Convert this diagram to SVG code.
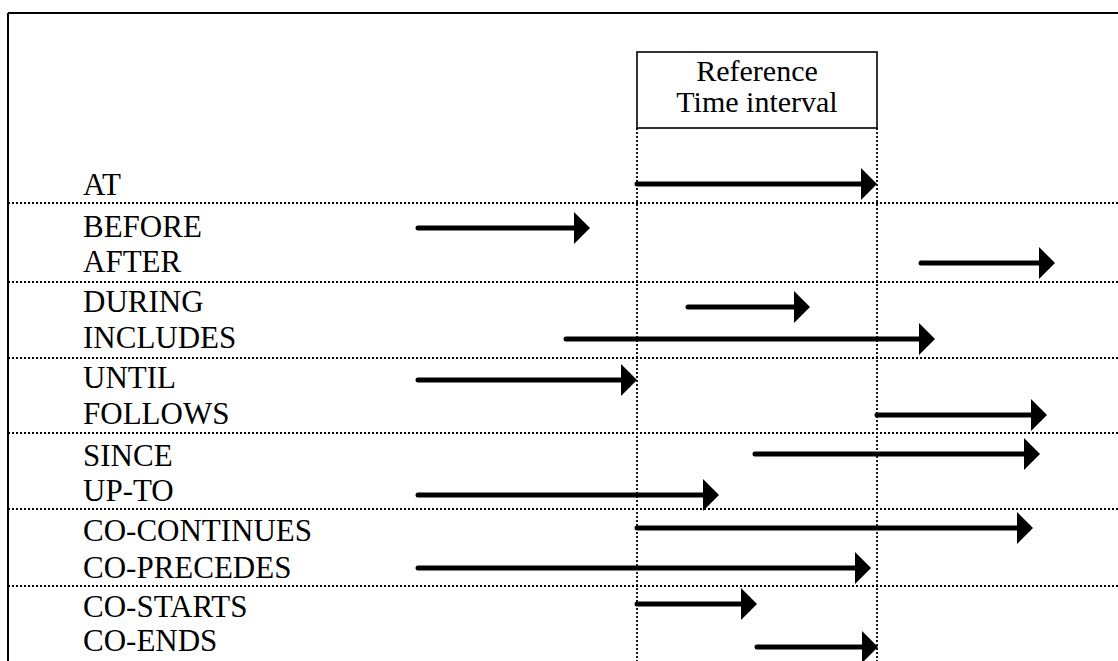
<svg xmlns="http://www.w3.org/2000/svg" width="1118" height="661" viewBox="0 0 1118 661">
<style>
.lbl{font-family:"Liberation Serif","Times New Roman",serif;font-size:31px;fill:#000}
.ref{font-family:"Liberation Serif","Times New Roman",serif;font-size:30px;fill:#000;text-anchor:middle}
.dot{stroke:#000;stroke-width:1.8;stroke-dasharray:2 2;fill:none}
.arr{stroke:#000;stroke-width:5;stroke-linecap:round;fill:none;marker-end:url(#head)}
</style>
<defs>
<marker id="head" markerUnits="userSpaceOnUse" markerWidth="16" markerHeight="32" refX="1" refY="16" orient="auto" viewBox="0 0 16 32">
<path d="M0,0 L16,16 L0,32 z" fill="#000"/>
</marker>
</defs>
<rect width="1118" height="661" fill="#fff"/>
<g id="frame" stroke="#000" stroke-width="2" fill="none">
<line x1="8" y1="13" x2="1118" y2="13"/>
<line x1="8" y1="13" x2="8" y2="661"/>
</g>
<g id="grid">
<line class="dot" x1="8" y1="203" x2="1118" y2="203"/>
<line class="dot" x1="8" y1="282" x2="1118" y2="282"/>
<line class="dot" x1="8" y1="358" x2="1118" y2="358"/>
<line class="dot" x1="8" y1="433" x2="1118" y2="433"/>
<line class="dot" x1="8" y1="509" x2="1118" y2="509"/>
<line class="dot" x1="8" y1="586" x2="1118" y2="586"/>
<line class="dot" x1="637" y1="128" x2="637" y2="661"/>
<line class="dot" x1="877" y1="128" x2="877" y2="661"/>
</g>
<g id="reference">
<rect x="637" y="52" width="240" height="76" fill="#fff" stroke="#000" stroke-width="1.6"/>
<text class="ref" x="757" y="81">Reference</text>
<text class="ref" x="757" y="112">Time interval</text>
</g>
<g id="labels">
<text class="lbl" x="83" y="195">AT</text>
<text class="lbl" x="83" y="237">BEFORE</text>
<text class="lbl" x="83" y="272">AFTER</text>
<text class="lbl" x="83" y="312">DURING</text>
<text class="lbl" x="83" y="348">INCLUDES</text>
<text class="lbl" x="83" y="388">UNTIL</text>
<text class="lbl" x="83" y="424">FOLLOWS</text>
<text class="lbl" x="83" y="466">SINCE</text>
<text class="lbl" x="83" y="501">UP-TO</text>
<text class="lbl" x="83" y="541">CO-CONTINUES</text>
<text class="lbl" x="83" y="578">CO-PRECEDES</text>
<text class="lbl" x="83" y="617">CO-STARTS</text>
<text class="lbl" x="83" y="651">CO-ENDS</text>
</g>
<g id="connectors">
<line class="arr" x1="637" y1="184" x2="862" y2="184"/>
<line class="arr" x1="418" y1="228" x2="575" y2="228"/>
<line class="arr" x1="921" y1="263" x2="1040" y2="263"/>
<line class="arr" x1="688" y1="307" x2="795" y2="307"/>
<line class="arr" x1="566" y1="339" x2="920" y2="339"/>
<line class="arr" x1="418" y1="380" x2="622" y2="380"/>
<line class="arr" x1="877" y1="415" x2="1032" y2="415"/>
<line class="arr" x1="755" y1="454" x2="1025" y2="454"/>
<line class="arr" x1="418" y1="495" x2="704" y2="495"/>
<line class="arr" x1="637" y1="528" x2="1018" y2="528"/>
<line class="arr" x1="418" y1="568" x2="856" y2="568"/>
<line class="arr" x1="637" y1="604" x2="742" y2="604"/>
<line class="arr" x1="757" y1="647" x2="863" y2="647"/>
</g>
</svg>
